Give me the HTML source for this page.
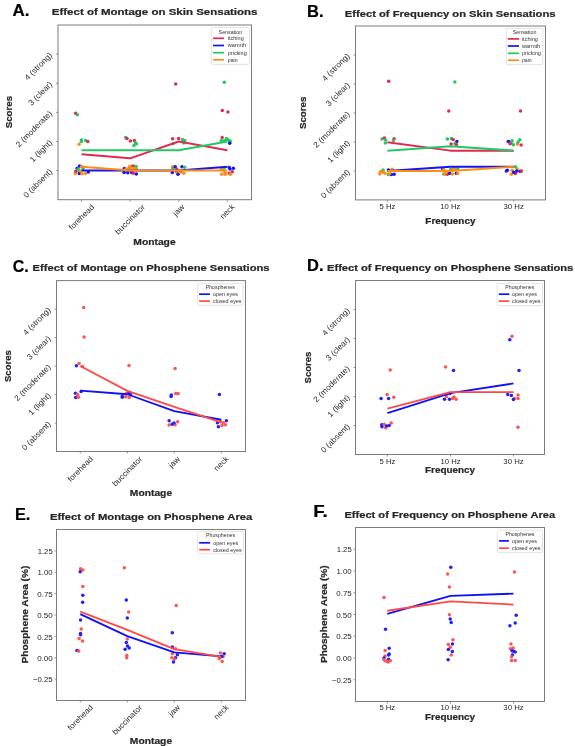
<!DOCTYPE html>
<html><head><meta charset="utf-8"><style>
html,body{margin:0;padding:0;background:#fff;width:575px;height:746px;overflow:hidden}
svg{display:block;will-change:transform}
text{font-family:"Liberation Sans", sans-serif}
</style></head><body>
<svg width="575" height="746" viewBox="0 0 575 746">
<rect width="575" height="746" fill="#fff"/>
<text x="12.60" y="16.10" font-size="16.5" text-anchor="start" fill="#000" font-weight="bold" stroke="#000" stroke-width="0.22" textLength="16.90" lengthAdjust="spacingAndGlyphs" >A.</text>
<text x="307.00" y="16.80" font-size="16.5" text-anchor="start" fill="#000" font-weight="bold" stroke="#000" stroke-width="0.22" textLength="16.50" lengthAdjust="spacingAndGlyphs" >B.</text>
<text x="12.80" y="271.70" font-size="16.5" text-anchor="start" fill="#000" font-weight="bold" stroke="#000" stroke-width="0.22" textLength="16.00" lengthAdjust="spacingAndGlyphs" >C.</text>
<text x="307.00" y="270.90" font-size="16.5" text-anchor="start" fill="#000" font-weight="bold" stroke="#000" stroke-width="0.22" textLength="16.50" lengthAdjust="spacingAndGlyphs" >D.</text>
<text x="15.00" y="520.30" font-size="16.5" text-anchor="start" fill="#000" font-weight="bold" stroke="#000" stroke-width="0.22" textLength="15.40" lengthAdjust="spacingAndGlyphs" >E.</text>
<text x="313.20" y="516.50" font-size="16.5" text-anchor="start" fill="#000" font-weight="bold" stroke="#000" stroke-width="0.22" textLength="14.60" lengthAdjust="spacingAndGlyphs" >F.</text>
<text x="51.80" y="15.10" font-size="9.9" text-anchor="start" fill="#262626" font-weight="bold" stroke="#262626" stroke-width="0.22" textLength="205.70" lengthAdjust="spacingAndGlyphs" >Effect of Montage on Skin Sensations</text>
<text x="344.80" y="16.90" font-size="9.9" text-anchor="start" fill="#262626" font-weight="bold" stroke="#262626" stroke-width="0.22" textLength="210.70" lengthAdjust="spacingAndGlyphs" >Effect of Frequency on Skin Sensations</text>
<text x="32.50" y="271.40" font-size="9.9" text-anchor="start" fill="#262626" font-weight="bold" stroke="#262626" stroke-width="0.22" textLength="237.10" lengthAdjust="spacingAndGlyphs" >Effect of Montage on Phosphene Sensations</text>
<text x="327.00" y="271.20" font-size="9.9" text-anchor="start" fill="#262626" font-weight="bold" stroke="#262626" stroke-width="0.22" textLength="246.30" lengthAdjust="spacingAndGlyphs" >Effect of Frequency on Phosphene Sensations</text>
<text x="49.90" y="519.90" font-size="9.9" text-anchor="start" fill="#262626" font-weight="bold" stroke="#262626" stroke-width="0.22" textLength="202.40" lengthAdjust="spacingAndGlyphs" >Effect of Montage on Phosphene Area</text>
<text x="344.40" y="518.00" font-size="9.9" text-anchor="start" fill="#262626" font-weight="bold" stroke="#262626" stroke-width="0.22" textLength="210.70" lengthAdjust="spacingAndGlyphs" >Effect of Frequency on Phosphene Area</text>
<text x="154.50" y="245.10" font-size="9.9" text-anchor="middle" fill="#262626" font-weight="bold" stroke="#262626" stroke-width="0.22" textLength="42.30" lengthAdjust="spacingAndGlyphs" >Montage</text>
<text x="450.40" y="224.30" font-size="9.9" text-anchor="middle" fill="#262626" font-weight="bold" stroke="#262626" stroke-width="0.22" textLength="50.10" lengthAdjust="spacingAndGlyphs" >Frequency</text>
<text x="151.00" y="495.90" font-size="9.9" text-anchor="middle" fill="#262626" font-weight="bold" stroke="#262626" stroke-width="0.22" textLength="42.30" lengthAdjust="spacingAndGlyphs" >Montage</text>
<text x="450.10" y="473.10" font-size="9.9" text-anchor="middle" fill="#262626" font-weight="bold" stroke="#262626" stroke-width="0.22" textLength="50.10" lengthAdjust="spacingAndGlyphs" >Frequency</text>
<text x="151.00" y="743.70" font-size="9.9" text-anchor="middle" fill="#262626" font-weight="bold" stroke="#262626" stroke-width="0.22" textLength="42.30" lengthAdjust="spacingAndGlyphs" >Montage</text>
<text x="450.10" y="720.00" font-size="9.9" text-anchor="middle" fill="#262626" font-weight="bold" stroke="#262626" stroke-width="0.22" textLength="50.10" lengthAdjust="spacingAndGlyphs" >Frequency</text>
<text x="0" y="0" font-size="9.6" font-weight="bold" fill="#262626" stroke="#262626" stroke-width="0.22" text-anchor="middle" transform="translate(11.80 112.10) rotate(-90)" textLength="32.40" lengthAdjust="spacingAndGlyphs">Scores</text>
<text x="0" y="0" font-size="9.6" font-weight="bold" fill="#262626" stroke="#262626" stroke-width="0.22" text-anchor="middle" transform="translate(305.60 112.90) rotate(-90)" textLength="32.40" lengthAdjust="spacingAndGlyphs">Scores</text>
<text x="0" y="0" font-size="9.6" font-weight="bold" fill="#262626" stroke="#262626" stroke-width="0.22" text-anchor="middle" transform="translate(11.00 366.10) rotate(-90)" textLength="31.80" lengthAdjust="spacingAndGlyphs">Scores</text>
<text x="0" y="0" font-size="9.6" font-weight="bold" fill="#262626" stroke="#262626" stroke-width="0.22" text-anchor="middle" transform="translate(310.50 367.50) rotate(-90)" textLength="31.80" lengthAdjust="spacingAndGlyphs">Scores</text>
<text x="0" y="0" font-size="9.6" font-weight="bold" fill="#262626" stroke="#262626" stroke-width="0.22" text-anchor="middle" transform="translate(27.60 614.60) rotate(-90)" textLength="97.80" lengthAdjust="spacingAndGlyphs">Phosphene Area (%)</text>
<text x="0" y="0" font-size="9.6" font-weight="bold" fill="#262626" stroke="#262626" stroke-width="0.22" text-anchor="middle" transform="translate(326.80 614.20) rotate(-90)" textLength="97.80" lengthAdjust="spacingAndGlyphs">Phosphene Area (%)</text>
<rect x="58.00" y="25.00" width="193.50" height="174.70" fill="none" stroke="#7c7c7c" stroke-width="1"/>
<line x1="81.50" y1="199.70" x2="81.50" y2="201.70" stroke="#7c7c7c" stroke-width="0.8"/>
<line x1="130.13" y1="199.70" x2="130.13" y2="201.70" stroke="#7c7c7c" stroke-width="0.8"/>
<line x1="178.76" y1="199.70" x2="178.76" y2="201.70" stroke="#7c7c7c" stroke-width="0.8"/>
<line x1="227.39" y1="199.70" x2="227.39" y2="201.70" stroke="#7c7c7c" stroke-width="0.8"/>
<rect x="355.50" y="26.00" width="190.00" height="173.90" fill="none" stroke="#7c7c7c" stroke-width="1"/>
<line x1="387.40" y1="199.90" x2="387.40" y2="201.90" stroke="#7c7c7c" stroke-width="0.8"/>
<line x1="450.40" y1="199.90" x2="450.40" y2="201.90" stroke="#7c7c7c" stroke-width="0.8"/>
<line x1="513.70" y1="199.90" x2="513.70" y2="201.90" stroke="#7c7c7c" stroke-width="0.8"/>
<rect x="56.50" y="280.60" width="189.00" height="170.90" fill="none" stroke="#7c7c7c" stroke-width="1"/>
<line x1="80.30" y1="451.50" x2="80.30" y2="453.50" stroke="#7c7c7c" stroke-width="0.8"/>
<line x1="127.30" y1="451.50" x2="127.30" y2="453.50" stroke="#7c7c7c" stroke-width="0.8"/>
<line x1="174.30" y1="451.50" x2="174.30" y2="453.50" stroke="#7c7c7c" stroke-width="0.8"/>
<line x1="221.30" y1="451.50" x2="221.30" y2="453.50" stroke="#7c7c7c" stroke-width="0.8"/>
<rect x="355.50" y="280.50" width="189.00" height="174.00" fill="none" stroke="#7c7c7c" stroke-width="1"/>
<line x1="387.40" y1="454.50" x2="387.40" y2="456.50" stroke="#7c7c7c" stroke-width="0.8"/>
<line x1="450.50" y1="454.50" x2="450.50" y2="456.50" stroke="#7c7c7c" stroke-width="0.8"/>
<line x1="513.50" y1="454.50" x2="513.50" y2="456.50" stroke="#7c7c7c" stroke-width="0.8"/>
<rect x="56.50" y="529.50" width="189.00" height="171.00" fill="none" stroke="#7c7c7c" stroke-width="1"/>
<line x1="80.30" y1="700.50" x2="80.30" y2="702.50" stroke="#7c7c7c" stroke-width="0.8"/>
<line x1="127.30" y1="700.50" x2="127.30" y2="702.50" stroke="#7c7c7c" stroke-width="0.8"/>
<line x1="174.30" y1="700.50" x2="174.30" y2="702.50" stroke="#7c7c7c" stroke-width="0.8"/>
<line x1="221.30" y1="700.50" x2="221.30" y2="702.50" stroke="#7c7c7c" stroke-width="0.8"/>
<rect x="355.50" y="527.50" width="189.00" height="174.00" fill="none" stroke="#7c7c7c" stroke-width="1"/>
<line x1="387.30" y1="701.50" x2="387.30" y2="703.50" stroke="#7c7c7c" stroke-width="0.8"/>
<line x1="450.50" y1="701.50" x2="450.50" y2="703.50" stroke="#7c7c7c" stroke-width="0.8"/>
<line x1="513.50" y1="701.50" x2="513.50" y2="703.50" stroke="#7c7c7c" stroke-width="0.8"/>
<line x1="56.00" y1="170.58" x2="58.00" y2="170.58" stroke="#7c7c7c" stroke-width="0.8"/>
<line x1="56.00" y1="141.47" x2="58.00" y2="141.47" stroke="#7c7c7c" stroke-width="0.8"/>
<line x1="56.00" y1="112.35" x2="58.00" y2="112.35" stroke="#7c7c7c" stroke-width="0.8"/>
<line x1="56.00" y1="83.23" x2="58.00" y2="83.23" stroke="#7c7c7c" stroke-width="0.8"/>
<line x1="56.00" y1="54.12" x2="58.00" y2="54.12" stroke="#7c7c7c" stroke-width="0.8"/>
<text x="0" y="0" font-size="7.9" fill="#262626" text-anchor="end" dominant-baseline="central" textLength="37.04" lengthAdjust="spacingAndGlyphs" transform="translate(51.00 170.38) rotate(-45)">0 (absent)</text>
<text x="0" y="0" font-size="7.9" fill="#262626" text-anchor="end" dominant-baseline="central" textLength="27.86" lengthAdjust="spacingAndGlyphs" transform="translate(51.00 141.27) rotate(-45)">1 (light)</text>
<text x="0" y="0" font-size="7.9" fill="#262626" text-anchor="end" dominant-baseline="central" textLength="47.80" lengthAdjust="spacingAndGlyphs" transform="translate(51.00 112.15) rotate(-45)">2 (moderate)</text>
<text x="0" y="0" font-size="7.9" fill="#262626" text-anchor="end" dominant-baseline="central" textLength="29.97" lengthAdjust="spacingAndGlyphs" transform="translate(51.00 83.03) rotate(-45)">3 (clear)</text>
<text x="0" y="0" font-size="7.9" fill="#262626" text-anchor="end" dominant-baseline="central" textLength="35.48" lengthAdjust="spacingAndGlyphs" transform="translate(51.00 53.92) rotate(-45)">4 (strong)</text>
<line x1="353.50" y1="170.92" x2="355.50" y2="170.92" stroke="#7c7c7c" stroke-width="0.8"/>
<line x1="353.50" y1="141.93" x2="355.50" y2="141.93" stroke="#7c7c7c" stroke-width="0.8"/>
<line x1="353.50" y1="112.95" x2="355.50" y2="112.95" stroke="#7c7c7c" stroke-width="0.8"/>
<line x1="353.50" y1="83.97" x2="355.50" y2="83.97" stroke="#7c7c7c" stroke-width="0.8"/>
<line x1="353.50" y1="54.98" x2="355.50" y2="54.98" stroke="#7c7c7c" stroke-width="0.8"/>
<text x="0" y="0" font-size="7.9" fill="#262626" text-anchor="end" dominant-baseline="central" textLength="37.04" lengthAdjust="spacingAndGlyphs" transform="translate(348.50 170.72) rotate(-45)">0 (absent)</text>
<text x="0" y="0" font-size="7.9" fill="#262626" text-anchor="end" dominant-baseline="central" textLength="27.86" lengthAdjust="spacingAndGlyphs" transform="translate(348.50 141.73) rotate(-45)">1 (light)</text>
<text x="0" y="0" font-size="7.9" fill="#262626" text-anchor="end" dominant-baseline="central" textLength="47.80" lengthAdjust="spacingAndGlyphs" transform="translate(348.50 112.75) rotate(-45)">2 (moderate)</text>
<text x="0" y="0" font-size="7.9" fill="#262626" text-anchor="end" dominant-baseline="central" textLength="29.97" lengthAdjust="spacingAndGlyphs" transform="translate(348.50 83.77) rotate(-45)">3 (clear)</text>
<text x="0" y="0" font-size="7.9" fill="#262626" text-anchor="end" dominant-baseline="central" textLength="35.48" lengthAdjust="spacingAndGlyphs" transform="translate(348.50 54.78) rotate(-45)">4 (strong)</text>
<line x1="54.50" y1="423.02" x2="56.50" y2="423.02" stroke="#7c7c7c" stroke-width="0.8"/>
<line x1="54.50" y1="394.53" x2="56.50" y2="394.53" stroke="#7c7c7c" stroke-width="0.8"/>
<line x1="54.50" y1="366.05" x2="56.50" y2="366.05" stroke="#7c7c7c" stroke-width="0.8"/>
<line x1="54.50" y1="337.57" x2="56.50" y2="337.57" stroke="#7c7c7c" stroke-width="0.8"/>
<line x1="54.50" y1="309.08" x2="56.50" y2="309.08" stroke="#7c7c7c" stroke-width="0.8"/>
<text x="0" y="0" font-size="7.9" fill="#262626" text-anchor="end" dominant-baseline="central" textLength="37.04" lengthAdjust="spacingAndGlyphs" transform="translate(49.50 422.82) rotate(-45)">0 (absent)</text>
<text x="0" y="0" font-size="7.9" fill="#262626" text-anchor="end" dominant-baseline="central" textLength="27.86" lengthAdjust="spacingAndGlyphs" transform="translate(49.50 394.33) rotate(-45)">1 (light)</text>
<text x="0" y="0" font-size="7.9" fill="#262626" text-anchor="end" dominant-baseline="central" textLength="47.80" lengthAdjust="spacingAndGlyphs" transform="translate(49.50 365.85) rotate(-45)">2 (moderate)</text>
<text x="0" y="0" font-size="7.9" fill="#262626" text-anchor="end" dominant-baseline="central" textLength="29.97" lengthAdjust="spacingAndGlyphs" transform="translate(49.50 337.37) rotate(-45)">3 (clear)</text>
<text x="0" y="0" font-size="7.9" fill="#262626" text-anchor="end" dominant-baseline="central" textLength="35.48" lengthAdjust="spacingAndGlyphs" transform="translate(49.50 308.88) rotate(-45)">4 (strong)</text>
<line x1="353.50" y1="425.50" x2="355.50" y2="425.50" stroke="#7c7c7c" stroke-width="0.8"/>
<line x1="353.50" y1="396.50" x2="355.50" y2="396.50" stroke="#7c7c7c" stroke-width="0.8"/>
<line x1="353.50" y1="367.50" x2="355.50" y2="367.50" stroke="#7c7c7c" stroke-width="0.8"/>
<line x1="353.50" y1="338.50" x2="355.50" y2="338.50" stroke="#7c7c7c" stroke-width="0.8"/>
<line x1="353.50" y1="309.50" x2="355.50" y2="309.50" stroke="#7c7c7c" stroke-width="0.8"/>
<text x="0" y="0" font-size="7.9" fill="#262626" text-anchor="end" dominant-baseline="central" textLength="37.04" lengthAdjust="spacingAndGlyphs" transform="translate(348.50 425.30) rotate(-45)">0 (absent)</text>
<text x="0" y="0" font-size="7.9" fill="#262626" text-anchor="end" dominant-baseline="central" textLength="27.86" lengthAdjust="spacingAndGlyphs" transform="translate(348.50 396.30) rotate(-45)">1 (light)</text>
<text x="0" y="0" font-size="7.9" fill="#262626" text-anchor="end" dominant-baseline="central" textLength="47.80" lengthAdjust="spacingAndGlyphs" transform="translate(348.50 367.30) rotate(-45)">2 (moderate)</text>
<text x="0" y="0" font-size="7.9" fill="#262626" text-anchor="end" dominant-baseline="central" textLength="29.97" lengthAdjust="spacingAndGlyphs" transform="translate(348.50 338.30) rotate(-45)">3 (clear)</text>
<text x="0" y="0" font-size="7.9" fill="#262626" text-anchor="end" dominant-baseline="central" textLength="35.48" lengthAdjust="spacingAndGlyphs" transform="translate(348.50 309.30) rotate(-45)">4 (strong)</text>
<line x1="54.50" y1="679.12" x2="56.50" y2="679.12" stroke="#7c7c7c" stroke-width="0.8"/>
<line x1="54.50" y1="657.75" x2="56.50" y2="657.75" stroke="#7c7c7c" stroke-width="0.8"/>
<line x1="54.50" y1="636.38" x2="56.50" y2="636.38" stroke="#7c7c7c" stroke-width="0.8"/>
<line x1="54.50" y1="615.00" x2="56.50" y2="615.00" stroke="#7c7c7c" stroke-width="0.8"/>
<line x1="54.50" y1="593.62" x2="56.50" y2="593.62" stroke="#7c7c7c" stroke-width="0.8"/>
<line x1="54.50" y1="572.25" x2="56.50" y2="572.25" stroke="#7c7c7c" stroke-width="0.8"/>
<line x1="54.50" y1="550.88" x2="56.50" y2="550.88" stroke="#7c7c7c" stroke-width="0.8"/>
<text x="52.70" y="682.33" font-size="7.9" fill="#262626" text-anchor="end" textLength="19.69" lengthAdjust="spacingAndGlyphs">−0.25</text>
<text x="52.70" y="660.95" font-size="7.9" fill="#262626" text-anchor="end" textLength="15.54" lengthAdjust="spacingAndGlyphs">0.00</text>
<text x="52.70" y="639.58" font-size="7.9" fill="#262626" text-anchor="end" textLength="15.38" lengthAdjust="spacingAndGlyphs">0.25</text>
<text x="52.70" y="618.20" font-size="7.9" fill="#262626" text-anchor="end" textLength="15.54" lengthAdjust="spacingAndGlyphs">0.50</text>
<text x="52.70" y="596.83" font-size="7.9" fill="#262626" text-anchor="end" textLength="15.38" lengthAdjust="spacingAndGlyphs">0.75</text>
<text x="52.70" y="575.45" font-size="7.9" fill="#262626" text-anchor="end" textLength="15.21" lengthAdjust="spacingAndGlyphs">1.00</text>
<text x="52.70" y="554.08" font-size="7.9" fill="#262626" text-anchor="end" textLength="15.06" lengthAdjust="spacingAndGlyphs">1.25</text>
<line x1="353.50" y1="679.75" x2="355.50" y2="679.75" stroke="#7c7c7c" stroke-width="0.8"/>
<line x1="353.50" y1="658.00" x2="355.50" y2="658.00" stroke="#7c7c7c" stroke-width="0.8"/>
<line x1="353.50" y1="636.25" x2="355.50" y2="636.25" stroke="#7c7c7c" stroke-width="0.8"/>
<line x1="353.50" y1="614.50" x2="355.50" y2="614.50" stroke="#7c7c7c" stroke-width="0.8"/>
<line x1="353.50" y1="592.75" x2="355.50" y2="592.75" stroke="#7c7c7c" stroke-width="0.8"/>
<line x1="353.50" y1="571.00" x2="355.50" y2="571.00" stroke="#7c7c7c" stroke-width="0.8"/>
<line x1="353.50" y1="549.25" x2="355.50" y2="549.25" stroke="#7c7c7c" stroke-width="0.8"/>
<text x="351.70" y="682.95" font-size="7.9" fill="#262626" text-anchor="end" textLength="19.69" lengthAdjust="spacingAndGlyphs">−0.25</text>
<text x="351.70" y="661.20" font-size="7.9" fill="#262626" text-anchor="end" textLength="15.54" lengthAdjust="spacingAndGlyphs">0.00</text>
<text x="351.70" y="639.45" font-size="7.9" fill="#262626" text-anchor="end" textLength="15.38" lengthAdjust="spacingAndGlyphs">0.25</text>
<text x="351.70" y="617.70" font-size="7.9" fill="#262626" text-anchor="end" textLength="15.54" lengthAdjust="spacingAndGlyphs">0.50</text>
<text x="351.70" y="595.95" font-size="7.9" fill="#262626" text-anchor="end" textLength="15.38" lengthAdjust="spacingAndGlyphs">0.75</text>
<text x="351.70" y="574.20" font-size="7.9" fill="#262626" text-anchor="end" textLength="15.21" lengthAdjust="spacingAndGlyphs">1.00</text>
<text x="351.70" y="552.45" font-size="7.9" fill="#262626" text-anchor="end" textLength="15.06" lengthAdjust="spacingAndGlyphs">1.25</text>
<text x="0" y="0" font-size="7.9" fill="#262626" text-anchor="middle" dominant-baseline="central" textLength="32.28" lengthAdjust="spacingAndGlyphs" transform="translate(81.50 217.18) rotate(-45)">forehead</text>
<text x="0" y="0" font-size="7.9" fill="#262626" text-anchor="middle" dominant-baseline="central" textLength="38.71" lengthAdjust="spacingAndGlyphs" transform="translate(130.13 219.45) rotate(-45)">buccinator</text>
<text x="0" y="0" font-size="7.9" fill="#262626" text-anchor="middle" dominant-baseline="central" textLength="12.50" lengthAdjust="spacingAndGlyphs" transform="translate(178.76 210.19) rotate(-45)">jaw</text>
<text x="0" y="0" font-size="7.9" fill="#262626" text-anchor="middle" dominant-baseline="central" textLength="16.95" lengthAdjust="spacingAndGlyphs" transform="translate(227.39 211.76) rotate(-45)">neck</text>
<text x="0" y="0" font-size="7.9" fill="#262626" text-anchor="middle" dominant-baseline="central" textLength="32.28" lengthAdjust="spacingAndGlyphs" transform="translate(80.30 469.08) rotate(-45)">forehead</text>
<text x="0" y="0" font-size="7.9" fill="#262626" text-anchor="middle" dominant-baseline="central" textLength="38.71" lengthAdjust="spacingAndGlyphs" transform="translate(127.30 471.35) rotate(-45)">buccinator</text>
<text x="0" y="0" font-size="7.9" fill="#262626" text-anchor="middle" dominant-baseline="central" textLength="12.50" lengthAdjust="spacingAndGlyphs" transform="translate(174.30 462.09) rotate(-45)">jaw</text>
<text x="0" y="0" font-size="7.9" fill="#262626" text-anchor="middle" dominant-baseline="central" textLength="16.95" lengthAdjust="spacingAndGlyphs" transform="translate(221.30 463.66) rotate(-45)">neck</text>
<text x="0" y="0" font-size="7.9" fill="#262626" text-anchor="middle" dominant-baseline="central" textLength="32.28" lengthAdjust="spacingAndGlyphs" transform="translate(80.30 717.58) rotate(-45)">forehead</text>
<text x="0" y="0" font-size="7.9" fill="#262626" text-anchor="middle" dominant-baseline="central" textLength="38.71" lengthAdjust="spacingAndGlyphs" transform="translate(127.30 719.85) rotate(-45)">buccinator</text>
<text x="0" y="0" font-size="7.9" fill="#262626" text-anchor="middle" dominant-baseline="central" textLength="12.50" lengthAdjust="spacingAndGlyphs" transform="translate(174.30 710.59) rotate(-45)">jaw</text>
<text x="0" y="0" font-size="7.9" fill="#262626" text-anchor="middle" dominant-baseline="central" textLength="16.95" lengthAdjust="spacingAndGlyphs" transform="translate(221.30 712.16) rotate(-45)">neck</text>
<text x="387.40" y="208.50" font-size="7.9" fill="#262626" text-anchor="middle" textLength="15.66" lengthAdjust="spacingAndGlyphs">5 Hz</text>
<text x="450.40" y="208.50" font-size="7.9" fill="#262626" text-anchor="middle" textLength="20.14" lengthAdjust="spacingAndGlyphs">10 Hz</text>
<text x="513.70" y="208.50" font-size="7.9" fill="#262626" text-anchor="middle" textLength="20.39" lengthAdjust="spacingAndGlyphs">30 Hz</text>
<text x="387.40" y="463.50" font-size="7.9" fill="#262626" text-anchor="middle" textLength="15.66" lengthAdjust="spacingAndGlyphs">5 Hz</text>
<text x="450.50" y="463.50" font-size="7.9" fill="#262626" text-anchor="middle" textLength="20.14" lengthAdjust="spacingAndGlyphs">10 Hz</text>
<text x="513.50" y="463.50" font-size="7.9" fill="#262626" text-anchor="middle" textLength="20.39" lengthAdjust="spacingAndGlyphs">30 Hz</text>
<text x="387.30" y="710.00" font-size="7.9" fill="#262626" text-anchor="middle" textLength="15.66" lengthAdjust="spacingAndGlyphs">5 Hz</text>
<text x="450.50" y="710.00" font-size="7.9" fill="#262626" text-anchor="middle" textLength="20.14" lengthAdjust="spacingAndGlyphs">10 Hz</text>
<text x="513.50" y="710.00" font-size="7.9" fill="#262626" text-anchor="middle" textLength="20.39" lengthAdjust="spacingAndGlyphs">30 Hz</text>
<circle cx="75.70" cy="113.30" r="1.75" fill="#e02a55" fill-opacity="1.0"/>
<circle cx="77.40" cy="114.70" r="1.75" fill="#24c862" fill-opacity="1.0"/>
<circle cx="175.70" cy="84.00" r="1.75" fill="#e02a55" fill-opacity="1.0"/>
<circle cx="224.30" cy="82.30" r="1.75" fill="#24c862" fill-opacity="1.0"/>
<circle cx="222.30" cy="110.60" r="1.75" fill="#e02a55" fill-opacity="1.0"/>
<circle cx="227.90" cy="111.90" r="1.75" fill="#e02a55" fill-opacity="1.0"/>
<circle cx="81.40" cy="139.90" r="1.75" fill="#24c862" fill-opacity="1.0"/>
<circle cx="81.40" cy="141.60" r="1.75" fill="#24c862" fill-opacity="1.0"/>
<circle cx="85.70" cy="140.60" r="1.75" fill="#24c862" fill-opacity="1.0"/>
<circle cx="87.80" cy="141.60" r="1.75" fill="#e02a55" fill-opacity="1.0"/>
<circle cx="79.10" cy="144.20" r="1.75" fill="#ff8c14" fill-opacity="1.0"/>
<circle cx="125.70" cy="137.60" r="1.75" fill="#24c862" fill-opacity="1.0"/>
<circle cx="127.00" cy="138.50" r="1.75" fill="#e02a55" fill-opacity="1.0"/>
<circle cx="130.40" cy="141.10" r="1.75" fill="#e02a55" fill-opacity="1.0"/>
<circle cx="134.40" cy="140.60" r="1.75" fill="#e02a55" fill-opacity="1.0"/>
<circle cx="135.30" cy="142.80" r="1.75" fill="#24c862" fill-opacity="1.0"/>
<circle cx="133.90" cy="145.40" r="1.75" fill="#24c862" fill-opacity="1.0"/>
<circle cx="136.50" cy="143.70" r="1.75" fill="#24c862" fill-opacity="1.0"/>
<circle cx="172.60" cy="138.70" r="1.75" fill="#e02a55" fill-opacity="1.0"/>
<circle cx="178.60" cy="138.40" r="1.75" fill="#e02a55" fill-opacity="1.0"/>
<circle cx="173.30" cy="143.40" r="1.75" fill="#24c862" fill-opacity="1.0"/>
<circle cx="182.50" cy="139.50" r="1.75" fill="#24c862" fill-opacity="1.0"/>
<circle cx="184.80" cy="140.50" r="1.75" fill="#24c862" fill-opacity="1.0"/>
<circle cx="183.80" cy="142.90" r="1.75" fill="#24c862" fill-opacity="1.0"/>
<circle cx="222.20" cy="137.60" r="1.75" fill="#e02a55" fill-opacity="1.0"/>
<circle cx="221.30" cy="140.60" r="1.75" fill="#24c862" fill-opacity="1.0"/>
<circle cx="226.50" cy="138.50" r="1.75" fill="#24c862" fill-opacity="1.0"/>
<circle cx="229.10" cy="140.60" r="1.75" fill="#24c862" fill-opacity="1.0"/>
<circle cx="224.50" cy="140.80" r="1.75" fill="#24c862" fill-opacity="1.0"/>
<circle cx="227.50" cy="139.80" r="1.75" fill="#24c862" fill-opacity="1.0"/>
<circle cx="230.30" cy="141.50" r="1.75" fill="#24c862" fill-opacity="1.0"/>
<circle cx="229.70" cy="143.30" r="1.75" fill="#1414f0" fill-opacity="1.0"/>
<circle cx="75.40" cy="173.40" r="1.75" fill="#ff8c14" fill-opacity="1.0"/>
<circle cx="75.80" cy="171.30" r="1.75" fill="#e02a55" fill-opacity="1.0"/>
<circle cx="77.20" cy="168.20" r="1.75" fill="#1414f0" fill-opacity="1.0"/>
<circle cx="78.20" cy="168.90" r="1.75" fill="#24c862" fill-opacity="1.0"/>
<circle cx="78.60" cy="170.70" r="1.75" fill="#24c862" fill-opacity="1.0"/>
<circle cx="79.60" cy="166.10" r="1.75" fill="#1414f0" fill-opacity="1.0"/>
<circle cx="79.30" cy="173.40" r="1.75" fill="#1414f0" fill-opacity="1.0"/>
<circle cx="81.70" cy="166.50" r="1.75" fill="#ff8c14" fill-opacity="1.0"/>
<circle cx="82.00" cy="173.80" r="1.75" fill="#ff8c14" fill-opacity="1.0"/>
<circle cx="83.10" cy="168.60" r="1.75" fill="#24c862" fill-opacity="1.0"/>
<circle cx="85.50" cy="173.40" r="1.75" fill="#ff8c14" fill-opacity="1.0"/>
<circle cx="88.30" cy="172.00" r="1.75" fill="#1414f0" fill-opacity="1.0"/>
<circle cx="80.50" cy="171.00" r="1.75" fill="#ff8c14" fill-opacity="1.0"/>
<circle cx="124.40" cy="168.50" r="1.75" fill="#1414f0" fill-opacity="1.0"/>
<circle cx="124.10" cy="172.50" r="1.75" fill="#1414f0" fill-opacity="1.0"/>
<circle cx="127.80" cy="172.70" r="1.75" fill="#1414f0" fill-opacity="1.0"/>
<circle cx="131.70" cy="172.50" r="1.75" fill="#1414f0" fill-opacity="1.0"/>
<circle cx="133.30" cy="173.30" r="1.75" fill="#e02a55" fill-opacity="1.0"/>
<circle cx="136.40" cy="174.00" r="1.75" fill="#1414f0" fill-opacity="1.0"/>
<circle cx="131.20" cy="166.20" r="1.75" fill="#ff8c14" fill-opacity="1.0"/>
<circle cx="133.30" cy="166.00" r="1.75" fill="#e02a55" fill-opacity="1.0"/>
<circle cx="136.10" cy="166.50" r="1.75" fill="#24c862" fill-opacity="1.0"/>
<circle cx="126.00" cy="169.00" r="1.75" fill="#ff8c14" fill-opacity="1.0"/>
<circle cx="128.50" cy="168.80" r="1.75" fill="#ff8c14" fill-opacity="1.0"/>
<circle cx="131.00" cy="169.20" r="1.75" fill="#ff8c14" fill-opacity="1.0"/>
<circle cx="134.00" cy="168.60" r="1.75" fill="#ff8c14" fill-opacity="1.0"/>
<circle cx="136.50" cy="169.00" r="1.75" fill="#ff8c14" fill-opacity="1.0"/>
<circle cx="129.50" cy="166.80" r="1.75" fill="#ff8c14" fill-opacity="1.0"/>
<circle cx="172.60" cy="166.70" r="1.75" fill="#ff8c14" fill-opacity="1.0"/>
<circle cx="172.80" cy="168.50" r="1.75" fill="#24c862" fill-opacity="1.0"/>
<circle cx="175.20" cy="166.70" r="1.75" fill="#1414f0" fill-opacity="1.0"/>
<circle cx="176.70" cy="169.10" r="1.75" fill="#e02a55" fill-opacity="1.0"/>
<circle cx="172.30" cy="172.50" r="1.75" fill="#1414f0" fill-opacity="1.0"/>
<circle cx="176.70" cy="172.20" r="1.75" fill="#ff8c14" fill-opacity="1.0"/>
<circle cx="178.00" cy="174.30" r="1.75" fill="#1414f0" fill-opacity="1.0"/>
<circle cx="180.60" cy="172.20" r="1.75" fill="#ff8c14" fill-opacity="1.0"/>
<circle cx="183.80" cy="173.30" r="1.75" fill="#ff8c14" fill-opacity="1.0"/>
<circle cx="182.00" cy="166.70" r="1.75" fill="#1414f0" fill-opacity="1.0"/>
<circle cx="184.60" cy="167.30" r="1.75" fill="#24c862" fill-opacity="1.0"/>
<circle cx="224.00" cy="168.30" r="1.75" fill="#24c862" fill-opacity="1.0"/>
<circle cx="229.20" cy="167.50" r="1.75" fill="#1414f0" fill-opacity="1.0"/>
<circle cx="230.00" cy="169.10" r="1.75" fill="#1414f0" fill-opacity="1.0"/>
<circle cx="233.40" cy="168.30" r="1.75" fill="#1414f0" fill-opacity="1.0"/>
<circle cx="232.30" cy="171.70" r="1.75" fill="#e02a55" fill-opacity="1.0"/>
<circle cx="229.20" cy="173.30" r="1.75" fill="#e02a55" fill-opacity="1.0"/>
<circle cx="230.30" cy="174.30" r="1.75" fill="#ff8c14" fill-opacity="1.0"/>
<circle cx="221.40" cy="169.30" r="1.75" fill="#ff8c14" fill-opacity="1.0"/>
<circle cx="221.70" cy="174.30" r="1.75" fill="#ff8c14" fill-opacity="1.0"/>
<circle cx="224.80" cy="172.20" r="1.75" fill="#ff8c14" fill-opacity="1.0"/>
<circle cx="225.30" cy="174.30" r="1.75" fill="#ff8c14" fill-opacity="1.0"/>
<circle cx="388.70" cy="81.20" r="1.75" fill="#e02a55" fill-opacity="1.0"/>
<circle cx="454.90" cy="82.00" r="1.75" fill="#24c862" fill-opacity="1.0"/>
<circle cx="448.80" cy="111.00" r="1.75" fill="#e02a55" fill-opacity="1.0"/>
<circle cx="520.50" cy="111.00" r="1.75" fill="#e02a55" fill-opacity="1.0"/>
<circle cx="382.00" cy="139.00" r="1.75" fill="#24c862" fill-opacity="1.0"/>
<circle cx="384.40" cy="137.90" r="1.75" fill="#e02a55" fill-opacity="1.0"/>
<circle cx="385.70" cy="140.00" r="1.75" fill="#24c862" fill-opacity="1.0"/>
<circle cx="385.40" cy="143.10" r="1.75" fill="#24c862" fill-opacity="1.0"/>
<circle cx="394.10" cy="138.70" r="1.75" fill="#e02a55" fill-opacity="1.0"/>
<circle cx="393.40" cy="140.40" r="1.75" fill="#24c862" fill-opacity="1.0"/>
<circle cx="447.40" cy="139.00" r="1.75" fill="#24c862" fill-opacity="1.0"/>
<circle cx="451.40" cy="138.60" r="1.75" fill="#24c862" fill-opacity="1.0"/>
<circle cx="453.10" cy="139.40" r="1.75" fill="#e02a55" fill-opacity="1.0"/>
<circle cx="456.80" cy="141.40" r="1.75" fill="#1414f0" fill-opacity="1.0"/>
<circle cx="451.10" cy="144.10" r="1.75" fill="#e02a55" fill-opacity="1.0"/>
<circle cx="455.10" cy="143.40" r="1.75" fill="#24c862" fill-opacity="1.0"/>
<circle cx="456.40" cy="144.40" r="1.75" fill="#e02a55" fill-opacity="1.0"/>
<circle cx="508.00" cy="141.40" r="1.75" fill="#e02a55" fill-opacity="1.0"/>
<circle cx="508.90" cy="141.40" r="1.75" fill="#1414f0" fill-opacity="1.0"/>
<circle cx="512.10" cy="140.70" r="1.75" fill="#24c862" fill-opacity="1.0"/>
<circle cx="511.10" cy="142.70" r="1.75" fill="#24c862" fill-opacity="1.0"/>
<circle cx="510.10" cy="143.70" r="1.75" fill="#e02a55" fill-opacity="1.0"/>
<circle cx="513.40" cy="144.70" r="1.75" fill="#24c862" fill-opacity="1.0"/>
<circle cx="517.40" cy="144.10" r="1.75" fill="#ff8c14" fill-opacity="1.0"/>
<circle cx="518.10" cy="142.10" r="1.75" fill="#24c862" fill-opacity="1.0"/>
<circle cx="519.80" cy="139.70" r="1.75" fill="#24c862" fill-opacity="1.0"/>
<circle cx="521.10" cy="145.10" r="1.75" fill="#e02a55" fill-opacity="1.0"/>
<circle cx="379.70" cy="173.90" r="1.75" fill="#ff8c14" fill-opacity="1.0"/>
<circle cx="380.70" cy="171.50" r="1.75" fill="#ff8c14" fill-opacity="1.0"/>
<circle cx="383.10" cy="169.90" r="1.75" fill="#24c862" fill-opacity="1.0"/>
<circle cx="383.10" cy="172.20" r="1.75" fill="#ff8c14" fill-opacity="1.0"/>
<circle cx="385.10" cy="173.20" r="1.75" fill="#ff8c14" fill-opacity="1.0"/>
<circle cx="388.40" cy="169.90" r="1.75" fill="#1414f0" fill-opacity="1.0"/>
<circle cx="392.10" cy="169.20" r="1.75" fill="#ff8c14" fill-opacity="1.0"/>
<circle cx="388.40" cy="174.50" r="1.75" fill="#24c862" fill-opacity="1.0"/>
<circle cx="391.40" cy="174.50" r="1.75" fill="#1414f0" fill-opacity="1.0"/>
<circle cx="394.10" cy="174.20" r="1.75" fill="#1414f0" fill-opacity="1.0"/>
<circle cx="389.70" cy="173.50" r="1.75" fill="#ff8c14" fill-opacity="1.0"/>
<circle cx="442.70" cy="168.70" r="1.75" fill="#1414f0" fill-opacity="1.0"/>
<circle cx="443.70" cy="169.50" r="1.75" fill="#ff8c14" fill-opacity="1.0"/>
<circle cx="443.70" cy="173.90" r="1.75" fill="#24c862" fill-opacity="1.0"/>
<circle cx="444.70" cy="174.20" r="1.75" fill="#ff8c14" fill-opacity="1.0"/>
<circle cx="447.40" cy="174.20" r="1.75" fill="#e02a55" fill-opacity="1.0"/>
<circle cx="446.10" cy="172.20" r="1.75" fill="#ff8c14" fill-opacity="1.0"/>
<circle cx="449.70" cy="173.20" r="1.75" fill="#1414f0" fill-opacity="1.0"/>
<circle cx="452.40" cy="173.90" r="1.75" fill="#ff8c14" fill-opacity="1.0"/>
<circle cx="450.70" cy="169.50" r="1.75" fill="#24c862" fill-opacity="1.0"/>
<circle cx="453.10" cy="168.50" r="1.75" fill="#ff8c14" fill-opacity="1.0"/>
<circle cx="454.80" cy="168.80" r="1.75" fill="#ff8c14" fill-opacity="1.0"/>
<circle cx="457.80" cy="168.80" r="1.75" fill="#24c862" fill-opacity="1.0"/>
<circle cx="456.40" cy="173.20" r="1.75" fill="#1414f0" fill-opacity="1.0"/>
<circle cx="457.80" cy="173.40" r="1.75" fill="#ff8c14" fill-opacity="1.0"/>
<circle cx="506.40" cy="170.90" r="1.75" fill="#1414f0" fill-opacity="1.0"/>
<circle cx="507.40" cy="170.20" r="1.75" fill="#1414f0" fill-opacity="1.0"/>
<circle cx="512.10" cy="170.20" r="1.75" fill="#ff8c14" fill-opacity="1.0"/>
<circle cx="517.10" cy="168.80" r="1.75" fill="#ff8c14" fill-opacity="1.0"/>
<circle cx="515.40" cy="166.80" r="1.75" fill="#24c862" fill-opacity="1.0"/>
<circle cx="511.40" cy="174.20" r="1.75" fill="#ff8c14" fill-opacity="1.0"/>
<circle cx="515.40" cy="173.50" r="1.75" fill="#e02a55" fill-opacity="1.0"/>
<circle cx="513.70" cy="172.20" r="1.75" fill="#1414f0" fill-opacity="1.0"/>
<circle cx="520.10" cy="171.20" r="1.75" fill="#1414f0" fill-opacity="1.0"/>
<circle cx="521.40" cy="170.90" r="1.75" fill="#e02a55" fill-opacity="1.0"/>
<circle cx="516.80" cy="170.90" r="1.75" fill="#1414f0" fill-opacity="1.0"/>
<circle cx="83.70" cy="307.50" r="1.75" fill="#ff5454" fill-opacity="1.0"/>
<circle cx="84.10" cy="336.90" r="1.75" fill="#ff5454" fill-opacity="1.0"/>
<circle cx="76.40" cy="365.70" r="1.75" fill="#2020fa" fill-opacity="1.0"/>
<circle cx="79.10" cy="363.40" r="1.75" fill="#ff5454" fill-opacity="1.0"/>
<circle cx="82.40" cy="366.40" r="1.75" fill="#ff5454" fill-opacity="1.0"/>
<circle cx="75.40" cy="393.20" r="1.75" fill="#2020fa" fill-opacity="1.0"/>
<circle cx="81.10" cy="391.50" r="1.75" fill="#2020fa" fill-opacity="1.0"/>
<circle cx="75.70" cy="397.50" r="1.75" fill="#2020fa" fill-opacity="1.0"/>
<circle cx="77.40" cy="394.20" r="1.75" fill="#ff5454" fill-opacity="1.0"/>
<circle cx="78.40" cy="397.20" r="1.75" fill="#ff5454" fill-opacity="1.0"/>
<circle cx="77.70" cy="395.50" r="1.75" fill="#ff5454" fill-opacity="1.0"/>
<circle cx="129.00" cy="365.40" r="1.75" fill="#ff5454" fill-opacity="1.0"/>
<circle cx="122.30" cy="397.20" r="1.75" fill="#2020fa" fill-opacity="1.0"/>
<circle cx="122.30" cy="396.20" r="1.75" fill="#2020fa" fill-opacity="1.0"/>
<circle cx="128.30" cy="393.00" r="1.75" fill="#2020fa" fill-opacity="1.0"/>
<circle cx="130.40" cy="394.30" r="1.75" fill="#2020fa" fill-opacity="1.0"/>
<circle cx="125.70" cy="396.70" r="1.75" fill="#ff5454" fill-opacity="1.0"/>
<circle cx="126.20" cy="393.60" r="1.75" fill="#ff5454" fill-opacity="1.0"/>
<circle cx="129.10" cy="397.50" r="1.75" fill="#ff5454" fill-opacity="1.0"/>
<circle cx="175.10" cy="368.40" r="1.75" fill="#ff5454" fill-opacity="1.0"/>
<circle cx="171.10" cy="396.60" r="1.75" fill="#2020fa" fill-opacity="1.0"/>
<circle cx="171.30" cy="395.00" r="1.75" fill="#2020fa" fill-opacity="1.0"/>
<circle cx="175.70" cy="393.60" r="1.75" fill="#ff5454" fill-opacity="1.0"/>
<circle cx="178.20" cy="393.60" r="1.75" fill="#ff5454" fill-opacity="1.0"/>
<circle cx="169.10" cy="420.70" r="1.75" fill="#2020fa" fill-opacity="1.0"/>
<circle cx="172.10" cy="424.30" r="1.75" fill="#2020fa" fill-opacity="1.0"/>
<circle cx="169.10" cy="425.10" r="1.75" fill="#ff5454" fill-opacity="1.0"/>
<circle cx="175.10" cy="424.70" r="1.75" fill="#ff5454" fill-opacity="1.0"/>
<circle cx="177.70" cy="421.70" r="1.75" fill="#ff5454" fill-opacity="1.0"/>
<circle cx="174.00" cy="423.00" r="1.75" fill="#2020fa" fill-opacity="1.0"/>
<circle cx="219.40" cy="394.60" r="1.75" fill="#2020fa" fill-opacity="1.0"/>
<circle cx="217.40" cy="422.70" r="1.75" fill="#2020fa" fill-opacity="1.0"/>
<circle cx="218.40" cy="426.70" r="1.75" fill="#2020fa" fill-opacity="1.0"/>
<circle cx="220.40" cy="421.70" r="1.75" fill="#ff5454" fill-opacity="1.0"/>
<circle cx="223.40" cy="422.70" r="1.75" fill="#ff5454" fill-opacity="1.0"/>
<circle cx="225.40" cy="424.70" r="1.75" fill="#ff5454" fill-opacity="1.0"/>
<circle cx="226.40" cy="420.70" r="1.75" fill="#2020fa" fill-opacity="1.0"/>
<circle cx="222.00" cy="425.50" r="1.75" fill="#ff5454" fill-opacity="1.0"/>
<circle cx="390.20" cy="370.00" r="1.75" fill="#ff5454" fill-opacity="1.0"/>
<circle cx="387.10" cy="394.60" r="1.75" fill="#ff5454" fill-opacity="1.0"/>
<circle cx="381.10" cy="398.60" r="1.75" fill="#2020fa" fill-opacity="1.0"/>
<circle cx="388.60" cy="398.60" r="1.75" fill="#2020fa" fill-opacity="1.0"/>
<circle cx="393.80" cy="397.20" r="1.75" fill="#ff5454" fill-opacity="1.0"/>
<circle cx="381.70" cy="424.70" r="1.75" fill="#2020fa" fill-opacity="1.0"/>
<circle cx="382.00" cy="426.70" r="1.75" fill="#2020fa" fill-opacity="1.0"/>
<circle cx="384.10" cy="424.30" r="1.75" fill="#ff5454" fill-opacity="1.0"/>
<circle cx="385.70" cy="427.70" r="1.75" fill="#ff5454" fill-opacity="1.0"/>
<circle cx="389.20" cy="425.50" r="1.75" fill="#2020fa" fill-opacity="1.0"/>
<circle cx="391.20" cy="423.10" r="1.75" fill="#ff5454" fill-opacity="1.0"/>
<circle cx="386.50" cy="426.00" r="1.75" fill="#2020fa" fill-opacity="1.0"/>
<circle cx="445.50" cy="367.00" r="1.75" fill="#ff5454" fill-opacity="1.0"/>
<circle cx="453.50" cy="370.40" r="1.75" fill="#2020fa" fill-opacity="1.0"/>
<circle cx="444.50" cy="399.20" r="1.75" fill="#2020fa" fill-opacity="1.0"/>
<circle cx="449.50" cy="399.20" r="1.75" fill="#2020fa" fill-opacity="1.0"/>
<circle cx="450.00" cy="393.60" r="1.75" fill="#2020fa" fill-opacity="1.0"/>
<circle cx="446.50" cy="396.60" r="1.75" fill="#ff5454" fill-opacity="1.0"/>
<circle cx="452.50" cy="398.60" r="1.75" fill="#ff5454" fill-opacity="1.0"/>
<circle cx="456.10" cy="399.20" r="1.75" fill="#ff5454" fill-opacity="1.0"/>
<circle cx="454.00" cy="397.00" r="1.75" fill="#ff5454" fill-opacity="1.0"/>
<circle cx="512.00" cy="336.20" r="1.75" fill="#ff5454" fill-opacity="1.0"/>
<circle cx="509.80" cy="339.70" r="1.75" fill="#2020fa" fill-opacity="1.0"/>
<circle cx="519.00" cy="370.40" r="1.75" fill="#2020fa" fill-opacity="1.0"/>
<circle cx="507.80" cy="394.60" r="1.75" fill="#2020fa" fill-opacity="1.0"/>
<circle cx="511.40" cy="395.60" r="1.75" fill="#2020fa" fill-opacity="1.0"/>
<circle cx="514.40" cy="398.60" r="1.75" fill="#ff5454" fill-opacity="1.0"/>
<circle cx="518.00" cy="395.00" r="1.75" fill="#ff5454" fill-opacity="1.0"/>
<circle cx="518.00" cy="398.60" r="1.75" fill="#ff5454" fill-opacity="1.0"/>
<circle cx="513.40" cy="399.60" r="1.75" fill="#2020fa" fill-opacity="1.0"/>
<circle cx="518.00" cy="427.30" r="1.75" fill="#ff5454" fill-opacity="1.0"/>
<circle cx="80.50" cy="568.70" r="1.75" fill="#ff5454" fill-opacity="1.0"/>
<circle cx="82.80" cy="569.90" r="1.75" fill="#ff5454" fill-opacity="1.0"/>
<circle cx="80.20" cy="571.70" r="1.75" fill="#2020fa" fill-opacity="1.0"/>
<circle cx="82.80" cy="586.40" r="1.75" fill="#ff5454" fill-opacity="1.0"/>
<circle cx="82.80" cy="595.30" r="1.75" fill="#2020fa" fill-opacity="1.0"/>
<circle cx="82.60" cy="602.30" r="1.75" fill="#2020fa" fill-opacity="1.0"/>
<circle cx="80.50" cy="620.00" r="1.75" fill="#2020fa" fill-opacity="1.0"/>
<circle cx="81.20" cy="629.00" r="1.75" fill="#ff5454" fill-opacity="1.0"/>
<circle cx="80.50" cy="633.60" r="1.75" fill="#2020fa" fill-opacity="1.0"/>
<circle cx="80.50" cy="634.80" r="1.75" fill="#2020fa" fill-opacity="1.0"/>
<circle cx="79.10" cy="638.60" r="1.75" fill="#ff5454" fill-opacity="1.0"/>
<circle cx="82.60" cy="640.90" r="1.75" fill="#ff5454" fill-opacity="1.0"/>
<circle cx="77.00" cy="650.40" r="1.75" fill="#2020fa" fill-opacity="1.0"/>
<circle cx="78.80" cy="651.00" r="1.75" fill="#ff5454" fill-opacity="1.0"/>
<circle cx="124.30" cy="567.70" r="1.75" fill="#ff5454" fill-opacity="1.0"/>
<circle cx="126.30" cy="600.10" r="1.75" fill="#2020fa" fill-opacity="1.0"/>
<circle cx="128.70" cy="612.00" r="1.75" fill="#ff5454" fill-opacity="1.0"/>
<circle cx="127.30" cy="618.10" r="1.75" fill="#2020fa" fill-opacity="1.0"/>
<circle cx="127.30" cy="639.10" r="1.75" fill="#ff5454" fill-opacity="1.0"/>
<circle cx="126.30" cy="642.50" r="1.75" fill="#2020fa" fill-opacity="1.0"/>
<circle cx="125.10" cy="649.30" r="1.75" fill="#2020fa" fill-opacity="1.0"/>
<circle cx="129.20" cy="648.10" r="1.75" fill="#2020fa" fill-opacity="1.0"/>
<circle cx="126.80" cy="655.40" r="1.75" fill="#ff5454" fill-opacity="1.0"/>
<circle cx="126.80" cy="657.80" r="1.75" fill="#ff5454" fill-opacity="1.0"/>
<circle cx="127.50" cy="646.00" r="1.75" fill="#2020fa" fill-opacity="1.0"/>
<circle cx="176.20" cy="605.50" r="1.75" fill="#ff5454" fill-opacity="1.0"/>
<circle cx="172.30" cy="632.80" r="1.75" fill="#2020fa" fill-opacity="1.0"/>
<circle cx="172.30" cy="646.90" r="1.75" fill="#2020fa" fill-opacity="1.0"/>
<circle cx="175.50" cy="648.80" r="1.75" fill="#ff5454" fill-opacity="1.0"/>
<circle cx="172.30" cy="653.70" r="1.75" fill="#ff5454" fill-opacity="1.0"/>
<circle cx="177.40" cy="654.70" r="1.75" fill="#2020fa" fill-opacity="1.0"/>
<circle cx="171.80" cy="657.80" r="1.75" fill="#ff5454" fill-opacity="1.0"/>
<circle cx="175.50" cy="657.80" r="1.75" fill="#2020fa" fill-opacity="1.0"/>
<circle cx="174.30" cy="659.00" r="1.75" fill="#ff5454" fill-opacity="1.0"/>
<circle cx="173.50" cy="662.00" r="1.75" fill="#2020fa" fill-opacity="1.0"/>
<circle cx="220.50" cy="653.00" r="1.75" fill="#ff5454" fill-opacity="1.0"/>
<circle cx="224.20" cy="653.70" r="1.75" fill="#2020fa" fill-opacity="1.0"/>
<circle cx="223.00" cy="656.60" r="1.75" fill="#ff5454" fill-opacity="1.0"/>
<circle cx="221.70" cy="656.60" r="1.75" fill="#2020fa" fill-opacity="1.0"/>
<circle cx="219.30" cy="658.60" r="1.75" fill="#ff5454" fill-opacity="1.0"/>
<circle cx="222.20" cy="661.50" r="1.75" fill="#ff5454" fill-opacity="1.0"/>
<circle cx="384.00" cy="597.60" r="1.75" fill="#ff5454" fill-opacity="1.0"/>
<circle cx="385.50" cy="629.30" r="1.75" fill="#2020fa" fill-opacity="1.0"/>
<circle cx="389.20" cy="648.30" r="1.75" fill="#2020fa" fill-opacity="1.0"/>
<circle cx="385.10" cy="650.40" r="1.75" fill="#ff5454" fill-opacity="1.0"/>
<circle cx="389.20" cy="654.00" r="1.75" fill="#2020fa" fill-opacity="1.0"/>
<circle cx="388.60" cy="655.00" r="1.75" fill="#2020fa" fill-opacity="1.0"/>
<circle cx="385.10" cy="656.00" r="1.75" fill="#ff5454" fill-opacity="1.0"/>
<circle cx="384.00" cy="658.10" r="1.75" fill="#2020fa" fill-opacity="1.0"/>
<circle cx="384.00" cy="659.80" r="1.75" fill="#ff5454" fill-opacity="1.0"/>
<circle cx="388.60" cy="659.20" r="1.75" fill="#2020fa" fill-opacity="1.0"/>
<circle cx="386.10" cy="661.30" r="1.75" fill="#ff5454" fill-opacity="1.0"/>
<circle cx="388.20" cy="661.90" r="1.75" fill="#ff5454" fill-opacity="1.0"/>
<circle cx="390.30" cy="660.80" r="1.75" fill="#ff5454" fill-opacity="1.0"/>
<circle cx="450.80" cy="567.30" r="1.75" fill="#2020fa" fill-opacity="1.0"/>
<circle cx="447.70" cy="574.00" r="1.75" fill="#ff5454" fill-opacity="1.0"/>
<circle cx="449.40" cy="587.10" r="1.75" fill="#ff5454" fill-opacity="1.0"/>
<circle cx="449.40" cy="614.70" r="1.75" fill="#ff5454" fill-opacity="1.0"/>
<circle cx="450.20" cy="619.10" r="1.75" fill="#2020fa" fill-opacity="1.0"/>
<circle cx="451.20" cy="622.60" r="1.75" fill="#2020fa" fill-opacity="1.0"/>
<circle cx="452.90" cy="639.70" r="1.75" fill="#ff5454" fill-opacity="1.0"/>
<circle cx="452.50" cy="643.90" r="1.75" fill="#2020fa" fill-opacity="1.0"/>
<circle cx="448.30" cy="644.60" r="1.75" fill="#ff5454" fill-opacity="1.0"/>
<circle cx="450.40" cy="647.30" r="1.75" fill="#ff5454" fill-opacity="1.0"/>
<circle cx="448.30" cy="649.40" r="1.75" fill="#2020fa" fill-opacity="1.0"/>
<circle cx="452.30" cy="651.40" r="1.75" fill="#2020fa" fill-opacity="1.0"/>
<circle cx="451.20" cy="655.00" r="1.75" fill="#ff5454" fill-opacity="1.0"/>
<circle cx="448.10" cy="659.80" r="1.75" fill="#2020fa" fill-opacity="1.0"/>
<circle cx="514.50" cy="572.10" r="1.75" fill="#ff5454" fill-opacity="1.0"/>
<circle cx="516.20" cy="615.30" r="1.75" fill="#2020fa" fill-opacity="1.0"/>
<circle cx="515.20" cy="623.00" r="1.75" fill="#2020fa" fill-opacity="1.0"/>
<circle cx="509.90" cy="625.80" r="1.75" fill="#2020fa" fill-opacity="1.0"/>
<circle cx="511.00" cy="644.10" r="1.75" fill="#ff5454" fill-opacity="1.0"/>
<circle cx="510.40" cy="648.70" r="1.75" fill="#ff5454" fill-opacity="1.0"/>
<circle cx="513.10" cy="648.10" r="1.75" fill="#ff5454" fill-opacity="1.0"/>
<circle cx="512.00" cy="650.80" r="1.75" fill="#2020fa" fill-opacity="1.0"/>
<circle cx="513.50" cy="651.20" r="1.75" fill="#2020fa" fill-opacity="1.0"/>
<circle cx="515.20" cy="651.90" r="1.75" fill="#2020fa" fill-opacity="1.0"/>
<circle cx="512.40" cy="655.00" r="1.75" fill="#2020fa" fill-opacity="1.0"/>
<circle cx="511.60" cy="656.70" r="1.75" fill="#ff5454" fill-opacity="1.0"/>
<circle cx="511.60" cy="660.60" r="1.75" fill="#ff5454" fill-opacity="1.0"/>
<circle cx="515.20" cy="660.60" r="1.75" fill="#ff5454" fill-opacity="1.0"/>
<polyline points="81.50,154.28 130.13,158.35 178.76,141.47 227.39,150.20" fill="none" stroke="#e02a55" stroke-width="2.0" stroke-linejoin="round"/>
<polyline points="81.50,170.58 130.13,170.58 178.76,170.58 227.39,166.80" fill="none" stroke="#1414f0" stroke-width="2.0" stroke-linejoin="round"/>
<polyline points="81.50,150.20 130.13,150.20 178.76,150.20 227.39,141.47" fill="none" stroke="#24c862" stroke-width="2.0" stroke-linejoin="round"/>
<polyline points="81.50,166.80 130.13,170.58 178.76,170.58 227.39,170.58" fill="none" stroke="#ff8c14" stroke-width="2.0" stroke-linejoin="round"/>
<polyline points="387.40,142.22 450.40,150.63 513.70,150.63" fill="none" stroke="#e02a55" stroke-width="2.0" stroke-linejoin="round"/>
<polyline points="387.40,170.92 450.40,166.71 513.70,166.71" fill="none" stroke="#1414f0" stroke-width="2.0" stroke-linejoin="round"/>
<polyline points="387.40,150.63 450.40,146.28 513.70,150.63" fill="none" stroke="#24c862" stroke-width="2.0" stroke-linejoin="round"/>
<polyline points="387.40,170.92 450.40,170.92 513.70,166.71" fill="none" stroke="#ff8c14" stroke-width="2.0" stroke-linejoin="round"/>
<polyline points="80.30,390.55 127.30,394.25 174.30,411.05 221.30,419.74" fill="none" stroke="#1010f5" stroke-width="1.8" stroke-linejoin="round"/>
<polyline points="80.30,366.05 127.30,390.83 174.30,406.78 221.30,422.45" fill="none" stroke="#ff4848" stroke-width="1.8" stroke-linejoin="round"/>
<polyline points="387.40,413.03 450.50,393.02 513.50,383.45" fill="none" stroke="#1010f5" stroke-width="1.8" stroke-linejoin="round"/>
<polyline points="387.40,408.68 450.50,392.15 513.50,392.15" fill="none" stroke="#ff4848" stroke-width="1.8" stroke-linejoin="round"/>
<polyline points="80.30,614.14 127.30,636.12 174.30,652.36 221.30,656.30" fill="none" stroke="#1010f5" stroke-width="1.8" stroke-linejoin="round"/>
<polyline points="80.30,611.58 127.30,629.96 174.30,649.20 221.30,656.89" fill="none" stroke="#ff4848" stroke-width="1.8" stroke-linejoin="round"/>
<polyline points="387.30,613.98 450.50,595.80 513.50,593.62" fill="none" stroke="#1010f5" stroke-width="1.8" stroke-linejoin="round"/>
<polyline points="387.30,610.76 450.50,601.36 513.50,604.58" fill="none" stroke="#ff4848" stroke-width="1.8" stroke-linejoin="round"/>
<rect x="211.30" y="27.50" width="38.30" height="36.80" fill="#ffffff" fill-opacity="0.9" stroke="#d8d8d8" stroke-width="0.7" rx="1.2"/>
<text x="230.45" y="33.70" font-size="5.6" fill="#333" text-anchor="middle" textLength="23.67" lengthAdjust="spacingAndGlyphs">Sensation</text>
<line x1="213.00" y1="38.30" x2="224.00" y2="38.30" stroke="#e02a55" stroke-width="1.7"/>
<text x="227.80" y="40.20" font-size="5.6" fill="#333" textLength="15.91" lengthAdjust="spacingAndGlyphs">itching</text>
<line x1="213.00" y1="45.50" x2="224.00" y2="45.50" stroke="#1414f0" stroke-width="1.7"/>
<text x="227.80" y="47.40" font-size="5.6" fill="#333" textLength="18.30" lengthAdjust="spacingAndGlyphs">warmth</text>
<line x1="213.00" y1="52.70" x2="224.00" y2="52.70" stroke="#24c862" stroke-width="1.7"/>
<text x="227.80" y="54.60" font-size="5.6" fill="#333" textLength="18.90" lengthAdjust="spacingAndGlyphs">pricking</text>
<line x1="213.00" y1="59.80" x2="224.00" y2="59.80" stroke="#ff8c14" stroke-width="1.7"/>
<text x="227.80" y="61.70" font-size="5.6" fill="#333" textLength="9.82" lengthAdjust="spacingAndGlyphs">pain</text>
<rect x="506.30" y="28.30" width="36.50" height="36.30" fill="#ffffff" fill-opacity="0.9" stroke="#d8d8d8" stroke-width="0.7" rx="1.2"/>
<text x="524.55" y="34.30" font-size="5.6" fill="#333" text-anchor="middle" textLength="23.67" lengthAdjust="spacingAndGlyphs">Sensation</text>
<line x1="507.80" y1="38.90" x2="519.00" y2="38.90" stroke="#e02a55" stroke-width="1.7"/>
<text x="521.90" y="40.80" font-size="5.6" fill="#333" textLength="15.91" lengthAdjust="spacingAndGlyphs">itching</text>
<line x1="507.80" y1="46.00" x2="519.00" y2="46.00" stroke="#1414f0" stroke-width="1.7"/>
<text x="521.90" y="47.90" font-size="5.6" fill="#333" textLength="18.30" lengthAdjust="spacingAndGlyphs">warmth</text>
<line x1="507.80" y1="53.30" x2="519.00" y2="53.30" stroke="#24c862" stroke-width="1.7"/>
<text x="521.90" y="55.20" font-size="5.6" fill="#333" textLength="18.90" lengthAdjust="spacingAndGlyphs">pricking</text>
<line x1="507.80" y1="60.20" x2="519.00" y2="60.20" stroke="#ff8c14" stroke-width="1.7"/>
<text x="521.90" y="62.10" font-size="5.6" fill="#333" textLength="9.82" lengthAdjust="spacingAndGlyphs">pain</text>
<rect x="197.40" y="283.60" width="45.70" height="21.70" fill="#ffffff" fill-opacity="0.9" stroke="#d8d8d8" stroke-width="0.7" rx="1.2"/>
<text x="220.25" y="288.90" font-size="5.6" fill="#333" text-anchor="middle" textLength="29.09" lengthAdjust="spacingAndGlyphs">Phosphenes</text>
<line x1="199.10" y1="294.20" x2="209.90" y2="294.20" stroke="#1010f5" stroke-width="1.7"/>
<text x="213.00" y="296.10" font-size="5.6" fill="#333" textLength="25.01" lengthAdjust="spacingAndGlyphs">open eyes</text>
<line x1="199.10" y1="301.10" x2="209.90" y2="301.10" stroke="#ff4848" stroke-width="1.7"/>
<text x="213.00" y="303.00" font-size="5.6" fill="#333" textLength="28.55" lengthAdjust="spacingAndGlyphs">closed eyes</text>
<rect x="497.10" y="283.40" width="45.40" height="22.30" fill="#ffffff" fill-opacity="0.9" stroke="#d8d8d8" stroke-width="0.7" rx="1.2"/>
<text x="519.80" y="288.90" font-size="5.6" fill="#333" text-anchor="middle" textLength="29.09" lengthAdjust="spacingAndGlyphs">Phosphenes</text>
<line x1="498.80" y1="294.20" x2="509.30" y2="294.20" stroke="#1010f5" stroke-width="1.7"/>
<text x="512.00" y="296.10" font-size="5.6" fill="#333" textLength="25.01" lengthAdjust="spacingAndGlyphs">open eyes</text>
<line x1="498.80" y1="301.10" x2="509.30" y2="301.10" stroke="#ff4848" stroke-width="1.7"/>
<text x="512.00" y="303.00" font-size="5.6" fill="#333" textLength="28.55" lengthAdjust="spacingAndGlyphs">closed eyes</text>
<rect x="197.60" y="531.50" width="45.90" height="22.30" fill="#ffffff" fill-opacity="0.9" stroke="#d8d8d8" stroke-width="0.7" rx="1.2"/>
<text x="220.55" y="537.40" font-size="5.6" fill="#333" text-anchor="middle" textLength="29.09" lengthAdjust="spacingAndGlyphs">Phosphenes</text>
<line x1="199.20" y1="542.80" x2="210.10" y2="542.80" stroke="#1010f5" stroke-width="1.7"/>
<text x="213.20" y="544.70" font-size="5.6" fill="#333" textLength="25.01" lengthAdjust="spacingAndGlyphs">open eyes</text>
<line x1="199.20" y1="549.70" x2="210.10" y2="549.70" stroke="#ff4848" stroke-width="1.7"/>
<text x="213.20" y="551.60" font-size="5.6" fill="#333" textLength="28.55" lengthAdjust="spacingAndGlyphs">closed eyes</text>
<rect x="497.40" y="530.20" width="45.10" height="22.40" fill="#ffffff" fill-opacity="0.9" stroke="#d8d8d8" stroke-width="0.7" rx="1.2"/>
<text x="519.95" y="535.80" font-size="5.6" fill="#333" text-anchor="middle" textLength="29.09" lengthAdjust="spacingAndGlyphs">Phosphenes</text>
<line x1="499.10" y1="540.90" x2="508.90" y2="540.90" stroke="#1010f5" stroke-width="1.7"/>
<text x="512.00" y="542.80" font-size="5.6" fill="#333" textLength="25.01" lengthAdjust="spacingAndGlyphs">open eyes</text>
<line x1="499.10" y1="548.20" x2="508.90" y2="548.20" stroke="#ff4848" stroke-width="1.7"/>
<text x="512.00" y="550.10" font-size="5.6" fill="#333" textLength="28.55" lengthAdjust="spacingAndGlyphs">closed eyes</text>
</svg></body></html>
